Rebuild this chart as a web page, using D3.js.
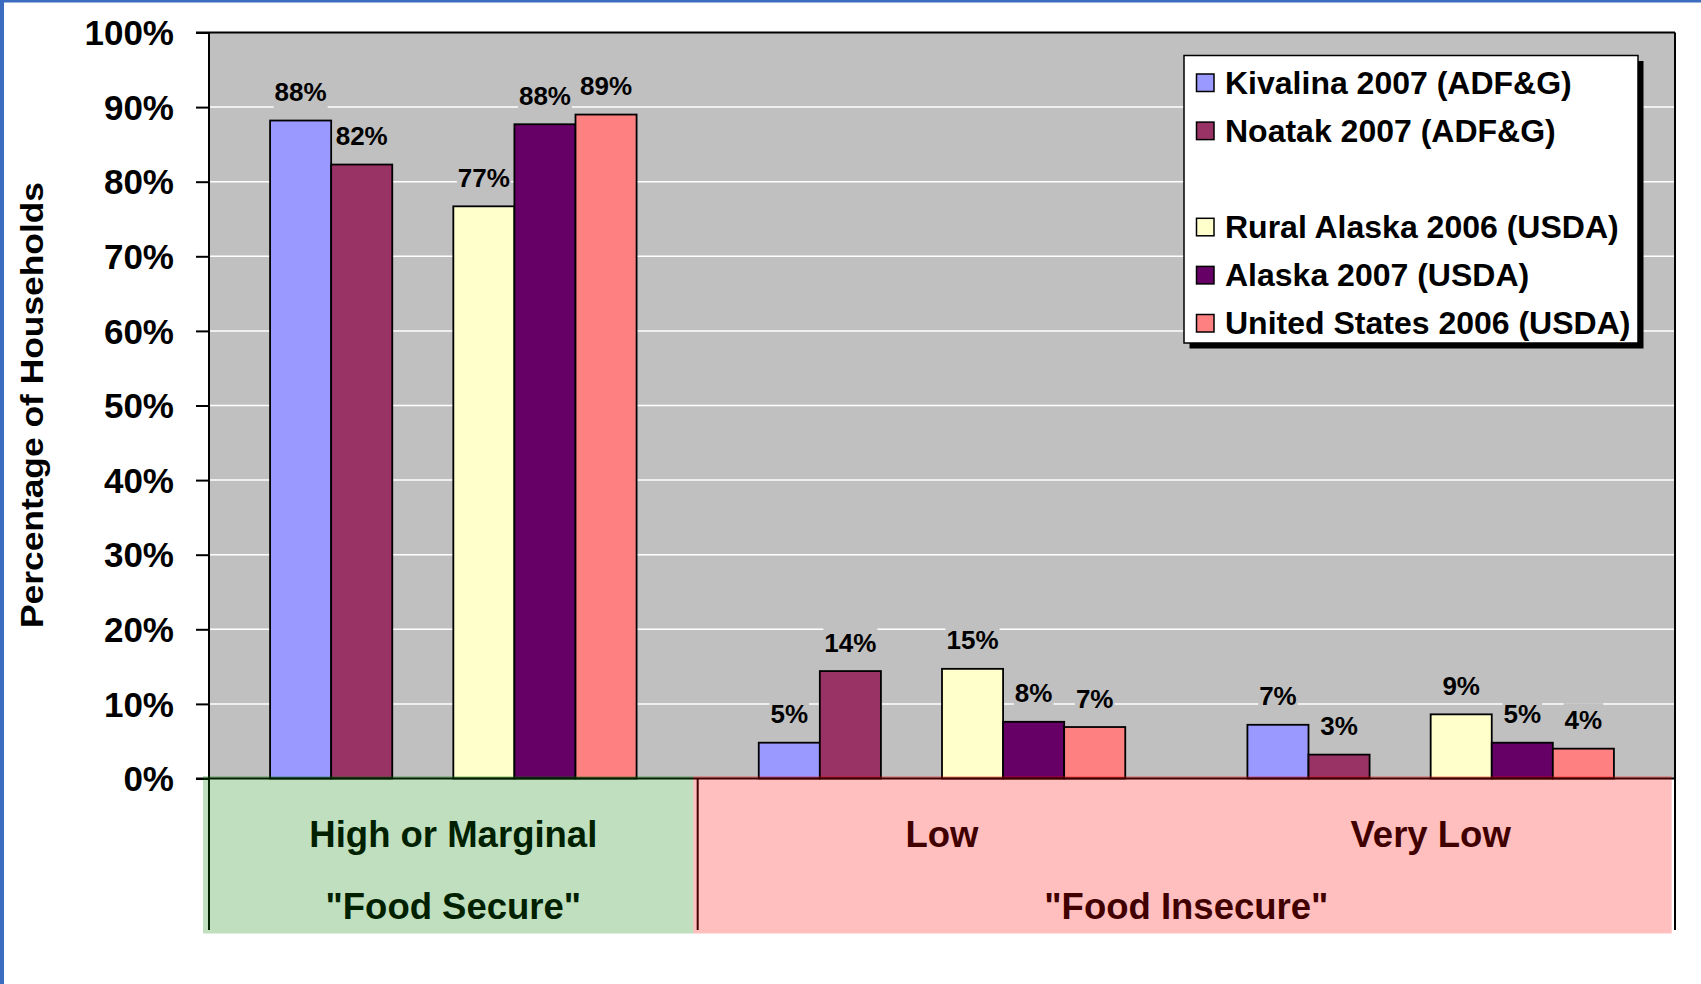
<!DOCTYPE html>
<html><head><meta charset="utf-8">
<script src="https://cdn.jsdelivr.net/npm/d3@7"></script>
<style>
html,body{margin:0;padding:0;background:#fff;}
svg{display:block;font-family:"Liberation Sans",Arial,Helvetica,sans-serif;font-weight:bold;}
</style>
</head><body>
<svg id="chart" width="1701" height="984"></svg>
<script>
// ---------- data ----------
const categories = ["High or Marginal", "Low", "Very Low"];
const groupLabels = ['"Food Secure"', '"Food Insecure"'];
const groupFirst = [0, 1];
const groupLast = [0, 2];

const seriesNames = ["Kivalina 2007 (ADF&G)", "Noatak 2007 (ADF&G)", "", "Rural Alaska 2006 (USDA)", "Alaska 2007 (USDA)", "United States 2006 (USDA)"];
const seriesColors = ["#9999ff", "#993366", "none", "#ffffcc", "#660066", "#ff8080"];

const kivalina = [88.2, 4.8, 7.2];
const noatak = [82.3, 14.4, 3.2];
const blankSeries = [null, null, null];
const ruralAlaska = [76.7, 14.7, 8.6];
const alaska = [87.7, 7.6, 4.8];
const unitedStates = [89.0, 6.9, 4.0];
const seriesValues = [kivalina, noatak, blankSeries, ruralAlaska, alaska, unitedStates];

const yTicks = [0, 10, 20, 30, 40, 50, 60, 70, 80, 90, 100];
const yTitle = "Percentage of Households";

// ---------- layout ----------
const svg = d3.select("#chart");
const L = 209, R = 1675, T = 32.5, B = 778.5;
const FONT = '"Liberation Sans",Arial,sans-serif';

// blue frame edges
svg.append("rect").attr("x", 0).attr("y", 0).attr("width", 1701).attr("height", 2.5).attr("fill", "#3b6cbf");
svg.append("rect").attr("x", 0).attr("y", 0).attr("width", 4).attr("height", 984).attr("fill", "#3b6cbf");

const y = d3.scaleLinear().domain([0, 100]).range([B, T]);
const x0 = d3.scaleBand().domain(categories).range([L, R]).padding(0);
const bw = x0.bandwidth();
const x1 = d3.scaleBand().domain(d3.range(seriesNames.length)).range([bw / 8, bw * 7 / 8]).padding(0);

// plot background
svg.append("rect").attr("x", L).attr("y", T).attr("width", R - L).attr("height", B - T).attr("fill", "#c0c0c0");

// gridlines
svg.append("g").selectAll("line").data(yTicks.filter(d => d > 0 && d < 100)).join("line")
  .attr("x1", L).attr("x2", R).attr("y1", d => y(d)).attr("y2", d => y(d))
  .attr("stroke", "#ffffff").attr("stroke-width", 1.5);

// bars
const barG = svg.append("g");
seriesValues.forEach((vals, si) => {
  if (seriesColors[si] === "none") return;
  barG.selectAll(null).data(vals.map((v, ci) => ({v, ci}))).join("rect")
    .attr("x", d => x0(categories[d.ci]) + x1(si))
    .attr("y", d => y(d.v))
    .attr("width", x1.bandwidth())
    .attr("height", d => y(0) - y(d.v))
    .attr("fill", seriesColors[si])
    .attr("stroke", "#000").attr("stroke-width", 1.8);
});

// data labels with plot-coloured background
const labG = svg.append("g");
seriesValues.forEach((vals, si) => {
  if (seriesColors[si] === "none") return;
  vals.forEach((v, ci) => {
    const cx = x0(categories[ci]) + x1(si) + x1.bandwidth() / 2;
    const by = y(v) - 19.5;
    const g = labG.append("g");
    const t = g.append("text").attr("x", cx).attr("y", by)
      .attr("text-anchor", "middle").attr("font-size", 26).attr("fill", "#000")
      .text(Math.round(v) + "%");
    const bb = t.node().getBBox();
    g.insert("rect", "text").attr("x", bb.x - 1).attr("y", by - 26).attr("width", bb.width + 2).attr("height", 33).attr("fill", "#c0c0c0");
  });
});

// axes frame lines
svg.append("line").attr("x1", 196).attr("x2", R).attr("y1", T).attr("y2", T).attr("stroke", "#000").attr("stroke-width", 2);
svg.append("line").attr("x1", L).attr("x2", L).attr("y1", T).attr("y2", 930).attr("stroke", "#000").attr("stroke-width", 2);
svg.append("line").attr("x1", R).attr("x2", R).attr("y1", T).attr("y2", 930).attr("stroke", "#000").attr("stroke-width", 2);
svg.append("line").attr("x1", 196).attr("x2", R).attr("y1", B).attr("y2", B).attr("stroke", "#000").attr("stroke-width", 2);

// y axis
const yAxis = d3.axisLeft(y).tickValues(yTicks).tickFormat(d => d + "%").tickSize(13).tickSizeOuter(0).tickPadding(22);
const ya = svg.append("g").attr("transform", `translate(${L},0)`).call(yAxis);
ya.select(".domain").remove();
ya.selectAll(".tick line").attr("stroke", "#000").attr("stroke-width", 2);
ya.selectAll(".tick text").attr("font-size", 35).attr("font-family", FONT).attr("font-weight", "bold").attr("fill", "#000").attr("dy", "0.35em");

// y title
svg.append("text").attr("transform", "translate(43,405) rotate(-90)")
  .attr("text-anchor", "middle").attr("font-size", 31).attr("fill", "#000")
  .attr("textLength", 446).attr("lengthAdjust", "spacingAndGlyphs")
  .text(yTitle);

// category boundary ticks (outer level)
const bounds = [L, x0(categories[1]), R];
svg.append("g").selectAll("line").data(bounds).join("line")
  .attr("x1", d => d).attr("x2", d => d).attr("y1", B).attr("y2", 930)
  .attr("stroke", "#000").attr("stroke-width", 2);

// category labels
svg.append("g").selectAll("text").data(categories).join("text")
  .attr("x", d => x0(d) + bw / 2).attr("y", 846.5)
  .attr("text-anchor", "middle").attr("font-size", 36.5).attr("fill", "#000")
  .text(d => d);
svg.append("g").selectAll("text").data(groupLabels).join("text")
  .attr("x", (d, i) => (x0(categories[groupFirst[i]]) + x0(categories[groupLast[i]]) + bw) / 2)
  .attr("y", 919)
  .attr("text-anchor", "middle").attr("font-size", 36.5).attr("fill", "#000")
  .text(d => d);

// translucent overlays
svg.append("rect").attr("x", 203).attr("y", 776).attr("width", 693.3 - 203).attr("height", 933.5 - 776).attr("fill", "rgba(0,128,0,0.25)");
svg.append("rect").attr("x", 693.3).attr("y", 776).attr("width", 1671.7 - 693.3).attr("height", 933.5 - 776).attr("fill", "rgba(255,0,0,0.25)");

// legend
const lg = svg.append("g");
const lx = 1184, ly = 55.5, lw = 454, lh = 287.5;
lg.append("rect").attr("x", lx + 5.5).attr("y", ly + 5.5).attr("width", lw).attr("height", lh).attr("fill", "#000");
lg.append("rect").attr("x", lx).attr("y", ly).attr("width", lw).attr("height", lh).attr("fill", "#fff").attr("stroke", "#000").attr("stroke-width", 1.5);
seriesNames.forEach((name, i) => {
  if (!name) return;
  const cy = 83 + 48.1 * i;
  lg.append("rect").attr("x", 1196.5).attr("y", cy - 9).attr("width", 17.5).attr("height", 17.5)
    .attr("fill", seriesColors[i]).attr("stroke", "#000").attr("stroke-width", 1.5);
  lg.append("text").attr("x", 1225).attr("y", cy + 10.5).attr("font-size", 32).attr("fill", "#000").text(name);
});
</script>
</body></html>
